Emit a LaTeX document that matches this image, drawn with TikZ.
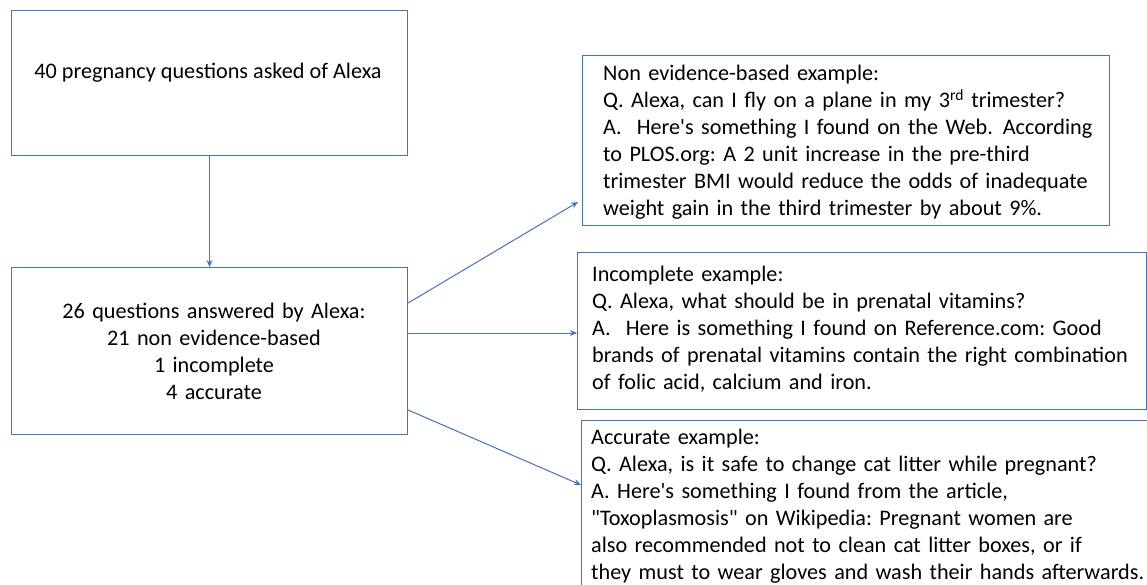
\documentclass[tikz,border=0pt]{standalone}
\usepackage{fontspec}
\setmainfont{Carlito}[Ligatures=TeXOff]
\usetikzlibrary{arrows.meta}
\definecolor{obl}{HTML}{4472C4}
\begin{document}
\frenchspacing
\begin{tikzpicture}[x=1pt,y=-1pt,
  box/.style={draw=obl,line width=1.1pt,rectangle,inner sep=0pt,anchor=north west},
  txt/.style={inner sep=0pt,font=\fontsize{22.2}{27}\selectfont,text=black},
  conn/.style={draw=obl,line width=1pt,-{Stealth[length=7pt,width=6pt]}}]
\useasboundingbox (0,0) rectangle (1147,585);
\fill[white] (0,0) rectangle (1147,585);
\clip (0,0) rectangle (1147,585);
% boxes
\node[box,minimum width=396pt,minimum height=145pt] (b1) at (11,10) {};
\node[box,minimum width=396pt,minimum height=167pt] (b2) at (11,267) {};
\node[box,minimum width=527pt,minimum height=170pt] (b3) at (582,55) {};
\node[box,minimum width=569pt,minimum height=157pt] (b4) at (577,252) {};
\node[box,minimum width=620pt,minimum height=220pt] (b5) at (581,420) {};
% texts
\node[txt,anchor=base] (t1) at (208,79) {40 pregnancy questions asked of Alexa};
\node[txt,anchor=base,text width=390pt,align=center] (t2) at (214,318)
  {26 questions answered by Alexa:\\21 non evidence-based\\1 incomplete\\4 accurate};
\node[txt,anchor=base west,text width=600pt,align=left] (t3) at (603,81)
  {Non evidence-based example:\\
   Q. Alexa, can I fly on a plane in my 3\textsuperscript{rd} trimester?\\
   A.\hspace{15pt}Here's something I found on the Web.\hspace{10pt}According\\
   to PLOS.org: A 2 unit increase in the pre-third\\
   trimester BMI would reduce the odds of inadequate\\
   weight gain in the third trimester by about 9\%.};
\node[txt,anchor=base west,text width=600pt,align=left] (t4) at (592,281)
  {Incomplete example:\\
   Q. Alexa, what should be in prenatal vitamins?\\
   A.\hspace{15pt}Here is something I found on Reference.com: Good\\
   brands of prenatal vitamins contain the right combination\\
   of folic acid, calcium and iron.};
\node[txt,anchor=base west,text width=600pt,align=left] (t5) at (591,444)
  {Accurate example:\\
   Q. Alexa, is it safe to change cat litter while pregnant?\\
   A. Here's something I found from the article,\\
   "Toxoplasmosis" on Wikipedia: Pregnant women are\\
   also recommended not to clean cat litter boxes, or if\\
   they must to wear gloves and wash their hands afterwards.};
% connectors
\draw[conn] (b1.south) -- (b2.north);
\draw[conn] ([yshift=-36pt]b2.north east) -- ([xshift=-4pt,yshift=-147pt]b3.north west);
\draw[conn] ([yshift=-66pt]b2.north east) -- ([yshift=-81pt]b4.north west);
\draw[conn] ([yshift=-143pt]b2.north east) -- ([yshift=-65pt]b5.north west);
\end{tikzpicture}
\end{document}
